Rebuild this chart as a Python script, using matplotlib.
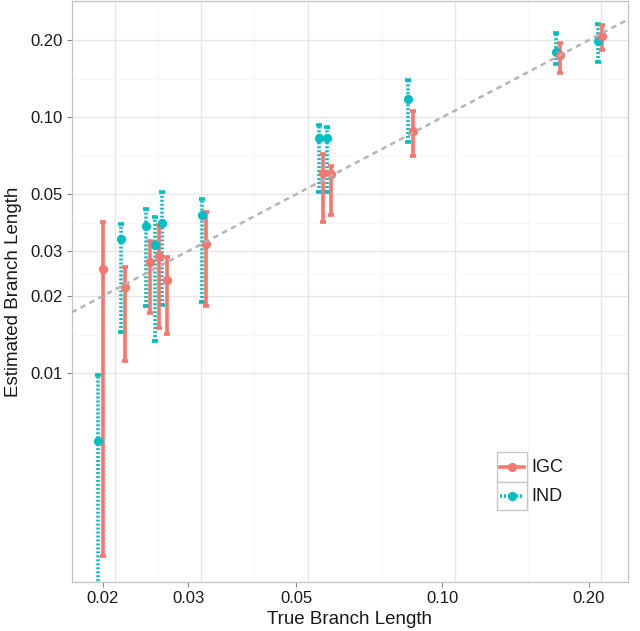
import numpy as np
import matplotlib
matplotlib.use("Agg")
import matplotlib.pyplot as plt
from matplotlib.lines import Line2D
from matplotlib.patches import Rectangle

plt.rcParams['font.family'] = ['Liberation Sans', 'DejaVu Sans']

# ---- data ----
true_len = [0.0198, 0.0220, 0.0248, 0.0259, 0.0268, 0.0323, 0.0563, 0.0585, 0.0860, 0.1731, 0.2113]
igc_est = [0.0255, 0.0217, 0.0271, 0.0286, 0.0232, 0.0320, 0.0608, 0.0599, 0.0882, 0.1746, 0.2077]
igc_lo = [0.00193, 0.01114, 0.0172, 0.01499, 0.0142, 0.01827, 0.0388, 0.0414, 0.0704, 0.1489, 0.1827]
igc_hi = [0.0389, 0.0260, 0.0329, 0.0379, 0.0285, 0.0427, 0.0715, 0.0645, 0.1055, 0.1951, 0.2287]
ind_est = [0.00543, 0.0334, 0.0376, 0.0317, 0.0387, 0.0413, 0.0830, 0.0830, 0.1183, 0.1805, 0.198]
ind_lo = [0.0012, 0.01446, 0.01827, 0.01334, 0.01844, 0.0190, 0.0511, 0.0511, 0.0801, 0.1621, 0.1644]
ind_hi = [0.00982, 0.0382, 0.0437, 0.0406, 0.0511, 0.0481, 0.0930, 0.0917, 0.1395, 0.2129, 0.2308]

x_breaks = [0.02, 0.03, 0.05, 0.10, 0.20]
x_labels = ['0.02', '0.03', '0.05', '0.10', '0.20']
y_breaks = [0.01, 0.02, 0.03, 0.05, 0.10, 0.20]
y_labels = ['0.01', '0.02', '0.03', '0.05', '0.10', '0.20']

RED = '#F8766D'
CYAN = '#00BFC4'

fig = plt.figure(figsize=(6.4, 6.31), dpi=100)
ax = fig.add_axes([0.112, 0.078, 0.8697, 0.9200])
ax.set_xscale('log')
ax.set_yscale('log')
xlim = (0.01727, 0.2412)
ylim = (0.00153, 0.2838)
ax.set_xlim(*xlim)
ax.set_ylim(*ylim)

# grid (vertical grid appears shifted relative to ticks in the reference)
gshift = 1.06
maj = np.array(x_breaks)
minor_x = np.sqrt(maj[:-1] * maj[1:])
for v in minor_x:
    ax.axvline(v * gshift, color='#F7F7F7', lw=0.7, zorder=0)
for v in maj:
    ax.axvline(v * gshift, color='#E6E6E6', lw=1.0, zorder=0)
ymaj = np.array(y_breaks)
for v in np.sqrt(ymaj[:-1] * ymaj[1:]):
    ax.axhline(v, color='#F8F8F8', lw=0.7, zorder=0)
for v in ymaj:
    ax.axhline(v, color='#E6E6E6', lw=1.0, zorder=0)

dodge = 1.0102
tl = np.array(true_len)

def draw(xs, est, lo, hi, color, ls):
    est = np.array(est); lo = np.array(lo); hi = np.array(hi)
    eb = ax.errorbar(xs, est, yerr=[est - lo, hi - est], fmt='o', color=color,
                     ms=5.6, mec=color, elinewidth=2.6, capsize=2.2, capthick=2.6,
                     zorder=3)
    eb[2][0].set_linestyle(ls)
    return eb

draw(tl / dodge, ind_est, ind_lo, ind_hi, CYAN, (0, (0.55, 0.55)))
draw(tl * dodge, igc_est, igc_lo, igc_hi, RED, '-')

# y = x reference line (drawn on top)
ax.plot(xlim, xlim, color='#B5B5B5', lw=1.8, ls=(0, (2.2, 1.8)), zorder=5)

ax.set_xticks(x_breaks)
ax.set_xticklabels(x_labels)
ax.set_yticks(y_breaks)
ax.set_yticklabels(y_labels)
ax.minorticks_off()
ax.tick_params(axis='both', length=3.5, width=0.8, color='#888888',
               labelsize=12, labelcolor='#1a1a1a', pad=3)

for s in ax.spines.values():
    s.set_color('#C4C4C4')
    s.set_linewidth(0.9)

ax.set_xlabel('True Branch Length', fontsize=13.5, color='#1a1a1a', labelpad=4)
ax.set_ylabel('Estimated Branch Length', fontsize=13.5, color='#1a1a1a', labelpad=6)

# legend (manual, ggplot style)
tr = ax.transAxes
bx0, bw = 0.7645, 0.054
rows = [(0.1717, 0.0517, RED, '-', 'IGC'), (0.1235, 0.0482, CYAN, (0, (0.55, 0.55)), 'IND')]
for (by, bh, col, ls, lab) in rows:
    ax.add_patch(Rectangle((bx0, by), bw, bh, transform=tr, facecolor='white',
                           edgecolor='#C8C8C8', lw=1.0, zorder=6))
    yc = by + bh / 2
    ax.add_line(Line2D([bx0 + 0.005, bx0 + bw - 0.005], [yc, yc], transform=tr,
                       color=col, lw=2.6, ls=ls, zorder=7))
    ax.add_line(Line2D([bx0 + bw / 2], [yc], transform=tr, marker='o', ms=5.6,
                       color=col, zorder=8))
    ax.text(bx0 + bw + 0.007, yc, lab, transform=tr, fontsize=13,
            va='center', ha='left', color='#1a1a1a', zorder=8)

fig.savefig('out.png', dpi=100)
